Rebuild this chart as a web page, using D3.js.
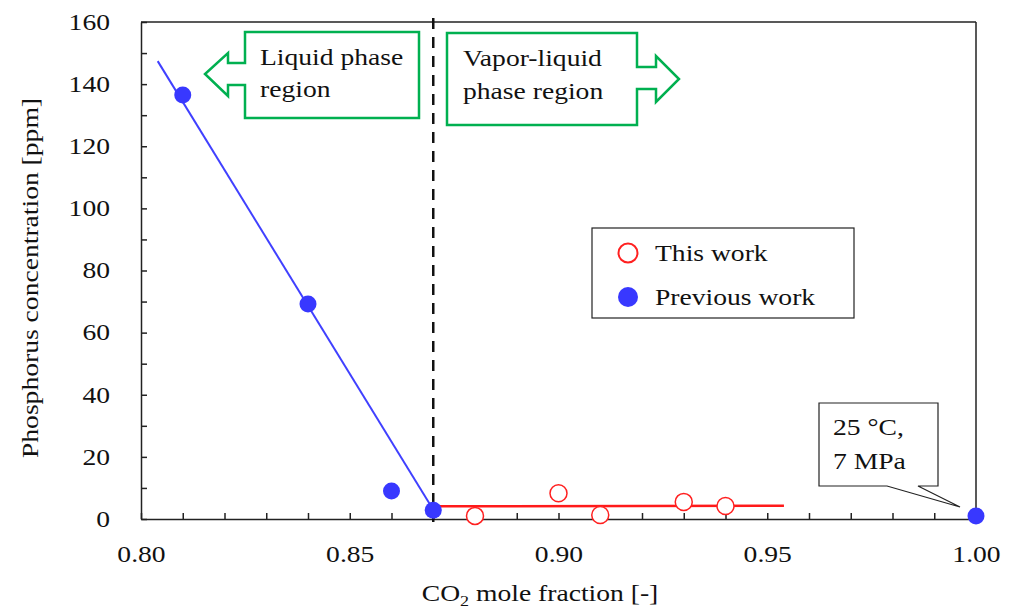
<!DOCTYPE html>
<html>
<head>
<meta charset="utf-8">
<script src="https://cdn.jsdelivr.net/npm/d3@7"></script>
<style>
  body { margin: 0; background: #fff; }
  text { font-family: "Liberation Serif", "Times New Roman", serif; fill: #111; }
</style>
</head>
<body>
<script>
// data
var thisWorkX = [0.88, 0.90, 0.91, 0.93, 0.94];
var thisWorkY = [1.0, 8.3, 1.3, 5.5, 4.2];

var prevWorkX = [0.81, 0.84, 0.86, 0.87, 1.00];
var prevWorkY = [136.5, 69.2, 9.0, 2.8, 1.0];

// fitted lines (end points)
var blueLineX = [0.804, 0.870];
var blueLineY = [147.4, 3.0];
var redLineX = [0.8705, 0.954];
var redLineY = [4.1, 4.3];

var boundaryX = 0.87;

var xTickLabels = [0.80, 0.85, 0.90, 0.95, 1.00];
var yTickLabels = [0, 20, 40, 60, 80, 100, 120, 140, 160];

// the original font is drawn wider than Liberation Serif
var stretch = 1.2;

// set the dimensions and margins of the graph
var margin = {top: 22, right: 38, bottom: 90, left: 141},
    width = 1014 - margin.left - margin.right,
    height = 609 - margin.top - margin.bottom;

var x = d3.scaleLinear().domain([0.80, 1.00]).range([0, width]);
var y = d3.scaleLinear().domain([0, 160]).range([height, 0]);

var svg = d3.select("body").append("svg")
    .attr("width", 1014)
    .attr("height", 609)
    .append("g")
    .attr("transform", "translate(" + margin.left + "," + margin.top + ")");

// axes: minor ticks inside, labels on major ticks only
var xAxis = svg.append("g")
    .attr("transform", "translate(0," + height + ")")
    .call(d3.axisBottom(x)
        .tickValues(d3.range(0, 21).map(function(i) { return 0.80 + i * 0.01; }))
        .tickSize(-6)
        .tickSizeOuter(0)
        .tickPadding(27)
        .tickFormat(function(d) {
            var hit = xTickLabels.some(function(v) { return Math.abs(v - d) < 1e-6; });
            return hit ? d3.format(".2f")(d) : "";
        }));

var yAxis = svg.append("g")
    .call(d3.axisLeft(y)
        .tickValues(d3.range(0, 161, 10))
        .tickSize(-6)
        .tickSizeOuter(0)
        .tickPadding(31)
        .tickFormat(function(d) { return yTickLabels.indexOf(d) >= 0 ? d : ""; }));

[xAxis, yAxis].forEach(function(g) {
    g.selectAll("path, line").attr("stroke", "#222").attr("stroke-width", 1.5);
    g.selectAll("text")
        .style("font-family", "'Liberation Serif', serif")
        .style("font-size", "23px")
        .attr("fill", "#111");
});
xAxis.selectAll("text").attr("dy", "0.71em").attr("transform", "scale(" + stretch + ",1)");
yAxis.selectAll("text").attr("x", -31 / stretch).attr("transform", "scale(" + stretch + ",1)");

// top and right frame
svg.append("line")
    .attr("x1", 0).attr("x2", width).attr("y1", 0).attr("y2", 0)
    .attr("stroke", "#222").attr("stroke-width", 1.5);
svg.append("line")
    .attr("x1", width).attr("x2", width).attr("y1", 0).attr("y2", height)
    .attr("stroke", "#222").attr("stroke-width", 1.5);

// dashed boundary
svg.append("line")
    .attr("x1", x(boundaryX)).attr("x2", x(boundaryX))
    .attr("y1", -4).attr("y2", height + 3)
    .attr("stroke", "#111")
    .attr("stroke-width", 2.5)
    .style("stroke-dasharray", ("11, 8"));

var line = d3.line()
    .x(function(d) { return x(d[0]); })
    .y(function(d) { return y(d[1]); });

svg.append("path")
    .datum(d3.zip(blueLineX, blueLineY))
    .attr("fill", "none")
    .attr("stroke", "#4040ff")
    .attr("stroke-width", 2)
    .attr("d", line);

svg.append("path")
    .datum(d3.zip(redLineX, redLineY))
    .attr("fill", "none")
    .attr("stroke", "#ff1a1a")
    .attr("stroke-width", 2.5)
    .attr("d", line);

// points
svg.selectAll("circle.prev")
    .data(d3.zip(prevWorkX, prevWorkY))
    .enter()
    .append("circle")
    .attr("class", "prev")
    .attr("cx", function(d) { return x(d[0]); })
    .attr("cy", function(d) { return y(d[1]); })
    .attr("r", 8.5)
    .style("fill", "#3838ff");

svg.selectAll("circle.this")
    .data(d3.zip(thisWorkX, thisWorkY))
    .enter()
    .append("circle")
    .attr("class", "this")
    .attr("cx", function(d) { return x(d[0]); })
    .attr("cy", function(d) { return y(d[1]); })
    .attr("r", 8.5)
    .style("fill", "#fff")
    .style("stroke", "#ff2020")
    .style("stroke-width", 1.5);

// callout arrows (page coordinates)
var page = d3.select("svg");
var green = "#00b050";

function label(px, py, str, rot) {
    return page.append("text")
        .attr("transform", "translate(" + px + "," + py + ")" + (rot ? " rotate(" + rot + ")" : "") +
            " scale(" + stretch + ",1)")
        .style("font-size", "23px")
        .text(str);
}

page.append("path")
    .attr("d", "M245,32 L419,32 L419,118 L245,118 L245,85 L228,85 L228,96 L205,74 L228,53 L228,63 L245,63 Z")
    .attr("fill", "#fff").attr("stroke", green).attr("stroke-width", 2.5);
label(260, 65, "Liquid phase");
label(260, 97, "region");

page.append("path")
    .attr("d", "M447,33 L637,33 L637,67 L656,67 L656,56 L679,79 L656,102 L656,89 L637,89 L637,125 L447,125 Z")
    .attr("fill", "#fff").attr("stroke", green).attr("stroke-width", 2.5);
label(463, 66, "Vapor-liquid");
label(463, 99, "phase region");

// legend
page.append("rect")
    .attr("x", 592).attr("y", 228).attr("width", 262).attr("height", 90)
    .attr("fill", "#fff").attr("stroke", "#222").attr("stroke-width", 1.2);
page.append("circle").attr("cx", 628).attr("cy", 253).attr("r", 9.5)
    .style("fill", "#fff").style("stroke", "#ff2020").style("stroke-width", 2);
page.append("circle").attr("cx", 628).attr("cy", 297).attr("r", 10)
    .style("fill", "#3838ff");
label(655, 261, "This work");
label(655, 305, "Previous work");

// condition callout
page.append("path")
    .attr("d", "M819,403 L938,403 L938,486 L918,486 L960,507 L887,486 L819,486 Z")
    .attr("fill", "#fff").attr("stroke", "#222").attr("stroke-width", 1.2);
label(833, 435, "25 °C,");
label(833, 469, "7 MPa");

// axis titles
label(38, 278, "Phosphorus concentration [ppm]", -90).attr("text-anchor", "middle");

var xt = label(540, 601, "", 0).attr("text-anchor", "middle");
xt.append("tspan").text("CO");
xt.append("tspan").attr("dy", 5).style("font-size", "15px").text("2");
xt.append("tspan").attr("dy", -5).text(" mole fraction [-]");
</script>
</body>
</html>
